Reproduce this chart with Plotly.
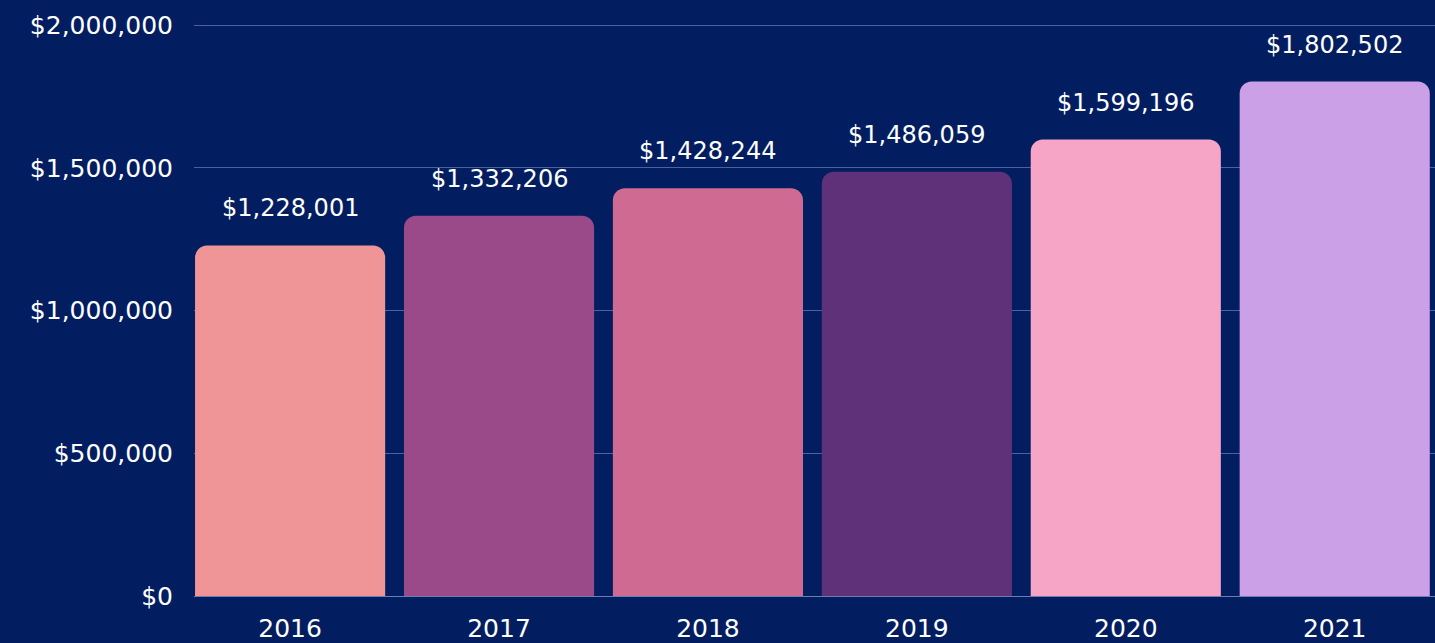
import plotly.graph_objects as go

years = ["2016", "2017", "2018", "2019", "2020", "2021"]
values = [1228001, 1332206, 1428244, 1486059, 1599196, 1802502]
colors = ["#EF9598", "#9A4A88", "#CF6A92", "#5E3179", "#F6A5C7", "#CBA0E6"]
y_ticks = [0, 500000, 1000000, 1500000, 2000000]

BG = "#021E60"
FONT = "DejaVu Sans"

fig = go.Figure()
fig.add_trace(go.Bar(
    x=years, y=values,
    marker=dict(color=colors, line=dict(width=0)),
    width=0.91,
    hoverinfo="skip",
))

for i, v in enumerate(values):
    fig.add_annotation(
        x=i, y=v, xref="x", yref="y", text=f"${v:,}", showarrow=False,
        yanchor="bottom", yshift=21,
        font=dict(family=FONT, size=24, color="#FFFFFF"),
    )

fig.update_layout(
    width=1435, height=643,
    paper_bgcolor=BG, plot_bgcolor=BG,
    margin=dict(l=194, r=0, t=24, b=47),
    barcornerradius=12,
    showlegend=False,
    font=dict(family=FONT, size=25, color="#FFFFFF"),
)
fig.update_xaxes(
    type="category", range=[-0.46, 5.48],
    showgrid=False, showline=True, linecolor="rgba(180,190,230,0.6)", linewidth=1,
    ticks="", ticklabelstandoff=10,
    tickfont=dict(family=FONT, size=25, color="#FFFFFF"),
)
fig.update_yaxes(
    range=[0, 2004000], tickvals=y_ticks,
    ticktext=[f"${t:,}" for t in y_ticks],
    showgrid=True, gridcolor="rgba(150,165,215,0.5)", gridwidth=1,
    zeroline=False, ticks="", ticklabelstandoff=20,
    tickfont=dict(family=FONT, size=25, color="#FFFFFF"),
)

fig.write_html("out.html", config={"displayModeBar": False},
               post_script="document.body.style.margin='0';")
